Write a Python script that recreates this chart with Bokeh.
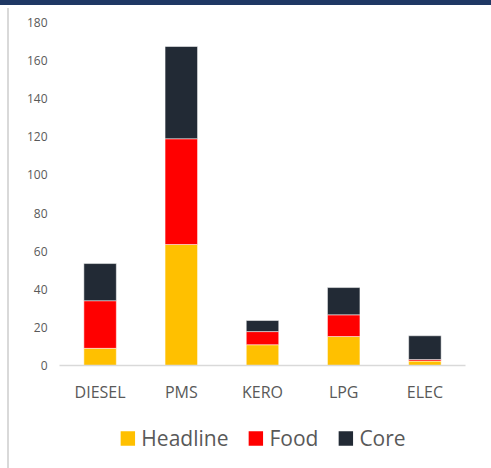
from bokeh.plotting import figure
from bokeh.models import (ColumnDataSource, FactorRange, Range1d, Legend, LegendItem,
                          FixedTicker, Div, Spacer)
from bokeh.layouts import column, row
from bokeh.embed import file_html
from bokeh.resources import INLINE

categories = ["DIESEL", "PMS", "KERO", "LPG", "ELEC"]
headline = [9.0, 63.5, 10.9, 15.2, 2.3]
food = [25.0, 55.5, 6.9, 11.4, 0.8]
core = [19.5, 48.4, 5.8, 14.3, 12.5]
series_names = ["Headline", "Food", "Core"]
colors = ["#FFC000", "#FF0000", "#222A35"]
y_ticks = [0, 20, 40, 60, 80, 100, 120, 140, 160, 180]

FONT = "Open Sans"
GREY = "#595959"

source = ColumnDataSource(data=dict(cat=categories, Headline=headline, Food=food, Core=core))

# main chart
p = figure(width=482, height=400, x_range=FactorRange(factors=categories),
           y_range=Range1d(0, 180), output_backend="svg", toolbar_location=None,
           min_border_left=50, min_border_right=14, min_border_top=14, min_border_bottom=43)

p.vbar_stack(series_names, x="cat", width=0.4, color=colors,
             line_color="white", line_width=0.5, source=source)

p.xgrid.visible = False
p.ygrid.visible = False
p.outline_line_color = None
p.background_fill_color = "white"
p.border_fill_color = "white"

p.yaxis.ticker = FixedTicker(ticks=y_ticks)
p.yaxis.axis_line_color = None
p.yaxis.major_tick_line_color = None
p.yaxis.minor_tick_line_color = None
p.yaxis.major_tick_out = 0
p.yaxis.major_tick_in = 0
p.yaxis.minor_tick_out = 0
p.yaxis.major_label_standoff = 12
p.yaxis.major_label_text_font = FONT
p.yaxis.major_label_text_font_size = "12px"
p.yaxis.major_label_text_color = GREY

p.xaxis.axis_line_color = "#D9D9D9"
p.xaxis.axis_line_width = 1.5
p.xaxis.major_tick_line_color = None
p.xaxis.minor_tick_line_color = None
p.xaxis.major_tick_out = 0
p.xaxis.major_tick_in = 0
p.xaxis.major_label_standoff = 15
p.xaxis.major_label_text_font = FONT
p.xaxis.major_label_text_font_size = "16px"
p.xaxis.major_label_text_color = GREY

# legend panel
lf = figure(width=482, height=60, output_backend="svg", toolbar_location=None,
            x_range=Range1d(0, 1), y_range=Range1d(0, 1),
            x_axis_location=None, y_axis_location=None,
            min_border_left=10, min_border_right=26, min_border_top=0, min_border_bottom=0)
lf.xgrid.visible = False
lf.ygrid.visible = False
lf.outline_line_color = None
lf.border_fill_color = "white"
lf.background_fill_color = "white"
legend_renderers = [lf.vbar(x=[0.5], top=[0], bottom=[0], width=0.01,
                            fill_color=c, line_color=None) for c in colors]
items = [LegendItem(label=n, renderers=[r]) for n, r in zip(series_names, legend_renderers)]
legend = Legend(items=items, orientation="horizontal", location="center",
                border_line_color=None, background_fill_alpha=0, padding=0, margin=0,
                spacing=18, glyph_width=18, glyph_height=18, label_standoff=5,
                label_text_font=FONT, label_text_font_size="21px",
                label_text_color=GREY, label_height=20)
lf.add_layout(legend)

band = Div(width=491, height=5, margin=0, styles={"background-color": "#1F3864"})
gap = Spacer(width=491, height=3, margin=0)
left_pad = Spacer(width=7, height=460, margin=0)
left_line = Div(width=2, height=460, margin=0, styles={"background-color": "#D9D9D9"})

layout = column(band, gap, row(left_pad, left_line, column(p, lf, spacing=0), spacing=0),
                spacing=0)

open("out.html", "w").write(file_html(layout, INLINE))
